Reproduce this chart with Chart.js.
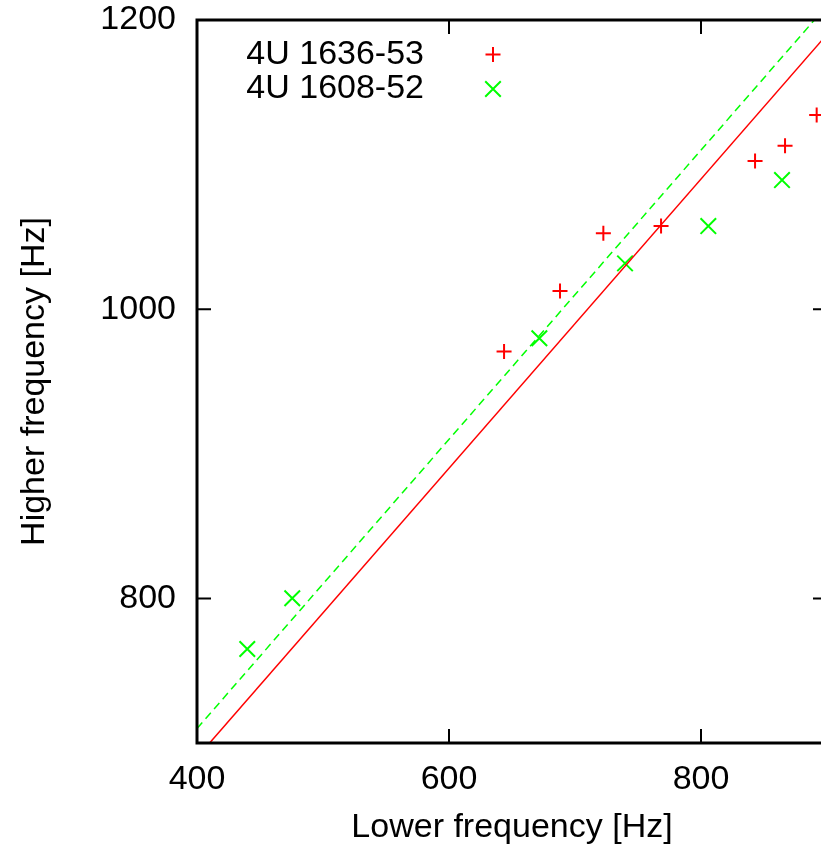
<!DOCTYPE html>
<html><head><meta charset="utf-8">
<script src="https://cdn.jsdelivr.net/npm/chart.js@4/dist/chart.umd.min.js"></script>
<style>html,body{margin:0;padding:0;overflow:hidden;background:#fff;} canvas{display:block;}</style>
</head><body>
<canvas id="c" width="860" height="848"></canvas>
<script>
const seriesNames = ['4U 1636-53', '4U 1608-52'];
const lower1636 = [643.7, 688.1, 722.5, 768.3, 842.9, 866.7, 891.8];
const higher1636 = [970.7, 1012.6, 1052.5, 1057.5, 1102.5, 1113.1, 1134.3];
const lower1608 = [439.9, 475.6, 671.7, 739.7, 805.8, 864.3];
const higher1608 = [765.0, 800.1, 979.9, 1031.7, 1057.5, 1089.3];
const line1636X = [410, 900];
const line1636Y = [700, 1190];
const line1608X = [400, 890];
const line1608Y = [710, 1200];
const xTicks = [400, 600, 800];
const yTicks = [800, 1000, 1200];
const xTitle = 'Lower frequency [Hz]';
const yTitle = 'Higher frequency [Hz]';

const FONT = 'Liberation Sans, Arial, Helvetica, sans-serif';
const FS = 34;
const RED = '#ff0000', GREEN = '#00ff00';

const toPts = (xs, ys) => xs.map((x, i) => ({x: x, y: ys[i]}));

const framePlugin = {
  id: 'frame',
  afterDatasetsDraw(chart) {
    const {ctx, chartArea: a, scales} = chart;
    ctx.save();
    ctx.strokeStyle = '#000';
    ctx.lineWidth = 2;
    const TL = 14;
    ctx.beginPath();
    xTicks.forEach(v => {
      const px = scales.x.getPixelForValue(v);
      ctx.moveTo(px, a.bottom); ctx.lineTo(px, a.bottom - TL);
      ctx.moveTo(px, a.top); ctx.lineTo(px, a.top + TL);
    });
    yTicks.forEach(v => {
      const py = scales.y.getPixelForValue(v);
      ctx.moveTo(a.left, py); ctx.lineTo(a.left + TL, py);
      ctx.moveTo(a.right, py); ctx.lineTo(a.right - TL, py);
    });
    ctx.stroke();
    ctx.lineWidth = 3;
    ctx.strokeRect(a.left, a.top, a.right - a.left, a.bottom - a.top);
    // legend
    ctx.font = FS + 'px ' + FONT;
    ctx.fillStyle = '#000';
    ctx.textAlign = 'right';
    ctx.textBaseline = 'middle';
    const tx = a.left + 227, mx = a.left + 296;
    const rows = [a.top + 34.5, a.top + 69];
    const styles = [
      {pointStyle: 'cross', radius: 7.5, color: RED},
      {pointStyle: 'crossRot', radius: 11, color: GREEN}
    ];
    seriesNames.forEach((n, i) => {
      ctx.fillText(n, tx, rows[i]);
      ctx.strokeStyle = styles[i].color;
      ctx.lineWidth = 2;
      Chart.helpers.drawPoint(ctx, {pointStyle: styles[i].pointStyle, radius: styles[i].radius, borderWidth: 2, rotation: 0}, mx, rows[i]);
    });
    ctx.restore();
  }
};

new Chart(document.getElementById('c').getContext('2d'), {
  type: 'scatter',
  data: {
    datasets: [
      {label: 'fit 1636', data: toPts(line1636X, line1636Y), showLine: true, borderColor: RED, borderWidth: 1.5, pointRadius: 0, fill: false},
      {label: 'fit 1608', data: toPts(line1608X, line1608Y), showLine: true, borderColor: GREEN, borderWidth: 1.5, borderDash: [8, 5], pointRadius: 0, fill: false},
      {label: seriesNames[0], data: toPts(lower1636, higher1636), showLine: false, pointStyle: 'cross', pointRadius: 7.5, borderColor: RED, backgroundColor: RED, borderWidth: 2},
      {label: seriesNames[1], data: toPts(lower1608, higher1608), showLine: false, pointStyle: 'crossRot', pointRadius: 11, borderColor: GREEN, backgroundColor: GREEN, borderWidth: 2}
    ]
  },
  options: {
    responsive: false,
    animation: false,
    devicePixelRatio: 1,
    layout: {padding: {left: 0, top: 20, right: 33, bottom: 0}},
    plugins: {legend: {display: false}, tooltip: {enabled: false}},
    scales: {
      x: {
        type: 'linear', min: 400, max: 900,
        afterBuildTicks: s => { s.ticks = xTicks.map(v => ({value: v})); },
        afterFit: s => { s.height = 105; s.paddingLeft = 0; s.paddingRight = 0; },
        grid: {display: false, drawTicks: false},
        border: {display: false},
        ticks: {font: {family: FONT, size: FS}, color: '#000', padding: 16, maxRotation: 0, autoSkip: false, callback: v => String(v)},
        title: {display: true, text: xTitle, color: '#000', font: {family: FONT, size: FS}, padding: {top: 0, bottom: 0}}
      },
      y: {
        type: 'linear', min: 700, max: 1200,
        afterBuildTicks: s => { s.ticks = yTicks.map(v => ({value: v})); },
        afterFit: s => { s.width = 197; s.paddingTop = 0; s.paddingBottom = 0; },
        grid: {display: false, drawTicks: false},
        border: {display: false},
        ticks: {font: {family: FONT, size: FS}, color: '#000', padding: 21, autoSkip: false, callback: v => String(v)},
        title: {display: true, text: yTitle, color: '#000', font: {family: FONT, size: FS}, padding: {top: 14, bottom: 0}}
      }
    }
  },
  plugins: [framePlugin]
});
</script>
</body></html>
